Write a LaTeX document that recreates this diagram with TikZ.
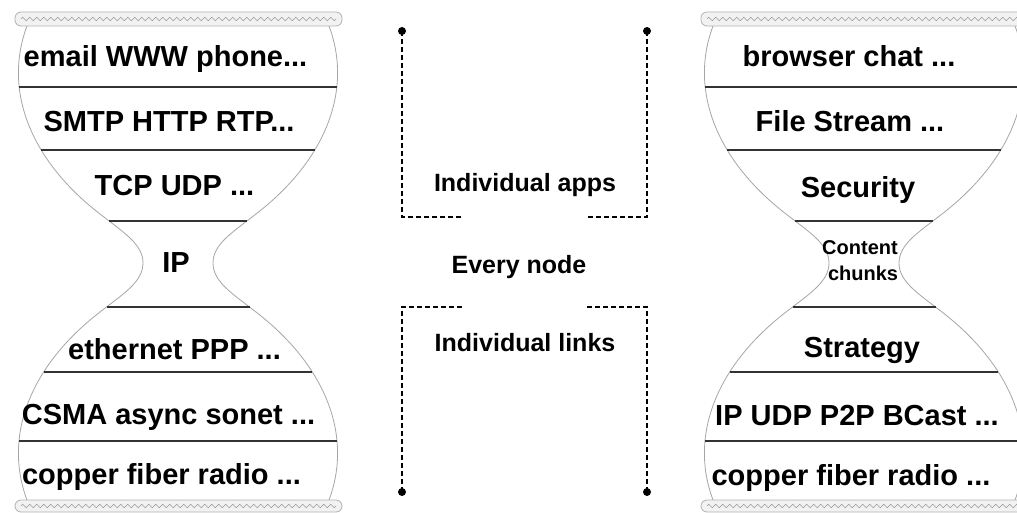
\documentclass[tikz,border=0pt]{standalone}
\usepackage{fontspec}
\setmainfont{Liberation Sans}
\usetikzlibrary{decorations.pathmorphing,intersections}
\tikzset{
  outline/.style={draw=gray!70, line width=0.8pt},
  layerline/.style={draw=black!80, line width=1.4pt},
  glasscap/.style={draw=gray!60, fill=gray!10, line width=0.8pt, rounded corners=6pt},
  zig/.style={draw=gray!80, line width=0.6pt, decorate, decoration={zigzag, segment length=7pt, amplitude=1.8pt}},
  lbl/.style={font=\bfseries\fontsize{29}{31}\selectfont, anchor=base, inner sep=0pt},
  small/.style={font=\bfseries\fontsize{20}{22}\selectfont, anchor=base, inner sep=0pt},
  mid/.style={font=\bfseries\fontsize{25}{28}\selectfont, anchor=base, inner sep=0pt},
  bracket/.style={draw=black, line width=1.2pt, dash pattern=on 5pt off 3pt},
  dot/.style={circle, fill=black, inner sep=0pt, minimum size=8pt}
}
\begin{document}
\begin{tikzpicture}[x=1pt,y=-1pt]
\useasboundingbox (0,0) rectangle (1017,513);
\clip (0,0) rectangle (1017,513);
\fill[white] (0,0) rectangle (1017,513);

% two hourglasses
\foreach \dx in {0,686}{
\begin{scope}[xshift=\dx pt]
  \draw[outline, name path=outl]
    (27,26) .. controls (3,90) and (30,160) .. (100,214)
            .. controls (123,232) and (143,244) .. (143,263)
            .. controls (143,282) and (123,294) .. (100,312)
            .. controls (30,366) and (3,436) .. (27,500)
    (329,26) .. controls (353,90) and (326,160) .. (256,214)
            .. controls (233,232) and (213,244) .. (213,263)
            .. controls (213,282) and (233,294) .. (256,312)
            .. controls (326,366) and (353,436) .. (329,500);
  \foreach \yy in {87,150,221,307,372,441}{
    \path[name path=hline] (0,\yy) -- (356,\yy);
    \path[name intersections={of=outl and hline, by={pa,pb}}];
    \draw[layerline] (pa) -- (pb);
  }
  \draw[glasscap] (15,12) rectangle (342,26);
  \draw[zig] (21,19) -- (336,19);
  \draw[glasscap] (15,500) rectangle (342,512);
  \draw[zig] (21,506) -- (336,506);
\end{scope}
}

% left labels
\node[lbl] (l1) at (165.5,67) {email WWW phone...};
\node[lbl] (l2) at (169,132) {SMTP HTTP RTP...};
\node[lbl] (l3) at (174.5,196) {TCP UDP ...};
\node[lbl] (l4) at (176,272) {IP};
\node[lbl] (l5) at (174.5,359) {ethernet PPP ...};
\node[lbl] (l6) at (168.5,424) {CSMA async sonet ...};
\node[lbl] (l7) at (161.5,484) {copper fiber radio ...};

% right labels
\node[lbl] (r1) at (849,67) {browser chat ...};
\node[lbl] (r2) at (850,132) {File Stream ...};
\node[lbl] (r3) at (858,198) {Security};
\node[small] (r4a) at (860,254) {Content};
\node[small] (r4b) at (863,280) {chunks};
\node[lbl] (r5) at (862,357) {Strategy};
\node[lbl] (r6) at (857,425) {IP UDP P2P BCast ...};
\node[lbl] (r7) at (851,485) {copper fiber radio ...};

% middle labels
\node[mid] (apps) at (525,192) {Individual apps};
\node[mid] (every) at (519,273) {Every node};
\node[mid] (links) at (525,351) {Individual links};

% brackets
\node[dot] (d1) at (402,31) {};
\node[dot] (d2) at (647,31) {};
\node[dot] (d3) at (402,492) {};
\node[dot] (d4) at (647,492) {};
\coordinate (c1) at (402,217);
\coordinate (e1) at (463,217);
\coordinate (c2) at (647,217);
\coordinate (e2) at (587,217);
\coordinate (c3) at (402,307);
\coordinate (e3) at (463,307);
\coordinate (c4) at (647,307);
\coordinate (e4) at (587,307);
\draw[bracket] (d1.center) -- (c1) -- (e1);
\draw[bracket] (d2.center) -- (c2) -- (e2);
\draw[bracket] (d3.center) -- (c3) -- (e3);
\draw[bracket] (d4.center) -- (c4) -- (e4);
\end{tikzpicture}
\end{document}
